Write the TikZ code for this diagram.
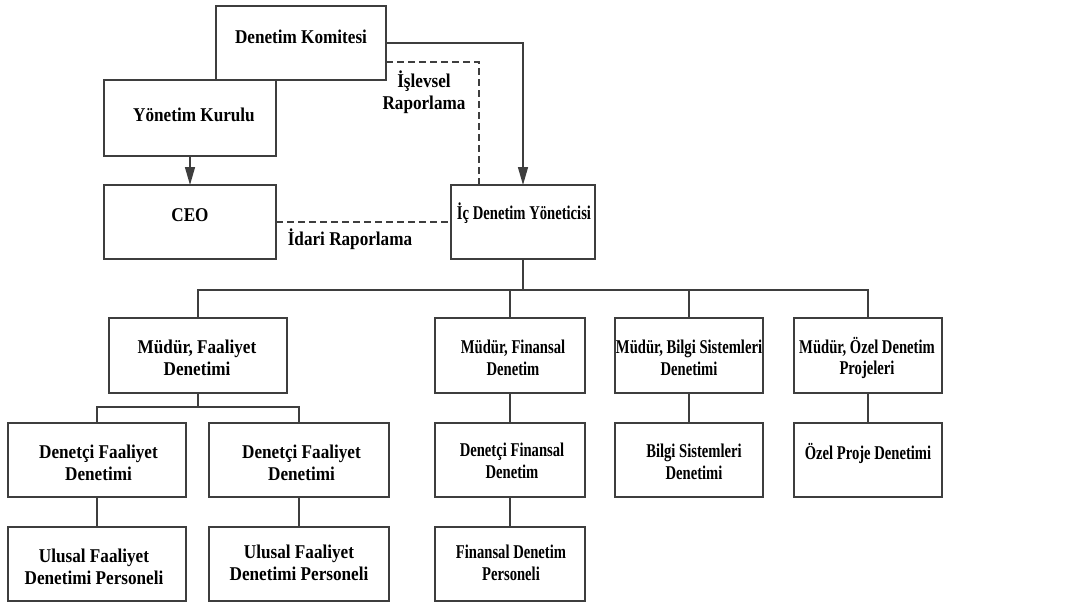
\documentclass[tikz,border=0pt]{standalone}
\usepackage{fontspec}
\setmainfont{Liberation Serif}[FakeStretch=0.88]
\newfontfamily\nf{Liberation Serif}[FakeStretch=0.75]
\usetikzlibrary{arrows.meta,calc}
\definecolor{ln}{RGB}{62,62,62}
\newcommand\mybox[5]{\node[box, minimum width={(#4-#2)*1pt}, minimum height={(#5-#3)*1pt}] (#1) at ({(#2+#4)/2},{(#3+#5)/2}) {};}
\begin{document}
\begin{tikzpicture}[x=1pt,y=-1pt,
 box/.style={draw=ln, line width=1.4pt, inner sep=0pt, outer sep=0pt},
 txt/.style={font=\fontsize{19.5}{21.7}\selectfont\bfseries, align=center, inner sep=0pt, text=black},
 ntxt/.style={font=\fontsize{19.5}{21.7}\selectfont\nf\bfseries, align=center, inner sep=0pt, text=black},
 conn/.style={draw=ln, line width=1.4pt},
 arr/.style={conn, -{Triangle[length=18pt,width=10pt]}},
 dsh/.style={conn, dash pattern=on 7pt off 4pt}]
\useasboundingbox (0,0) rectangle (1066,603);
% boxes
\mybox{kom}{216}{6}{386}{80}
\mybox{yon}{104}{80}{276}{156}
\mybox{ceo}{104}{185}{276}{259}
\mybox{ic}{451}{185}{595}{259}
\mybox{m1}{109}{318}{287}{393}
\mybox{m2}{435}{318}{585}{393}
\mybox{m3}{615}{318}{763}{393}
\mybox{m4}{794}{318}{942}{393}
\mybox{d1}{8}{423}{186}{497}
\mybox{d2}{209}{423}{389}{497}
\mybox{d3}{435}{423}{585}{497}
\mybox{d4}{615}{423}{763}{497}
\mybox{d5}{794}{423}{942}{497}
\mybox{u1}{8}{527}{186}{601}
\mybox{u2}{209}{527}{389}{601}
\mybox{u3}{435}{527}{585}{601}
% texts
\node[txt] (tkom) at (301,37) {Denetim Komitesi};
\node[txt] (tyon) at (194,115) {Yönetim Kurulu};
\node[txt] (tceo) at (190,215) {CEO};
\node[ntxt] (tic) at (524,213) {İç Denetim Yöneticisi};
\node[txt] (tm1) at (197,358) {Müdür, Faaliyet\\Denetimi};
\node[ntxt] (tm2) at (513,358) {Müdür, Finansal\\Denetim};
\node[ntxt] (tm3) at (689,358) {Müdür, Bilgi Sistemleri\\Denetimi};
\node[ntxt] (tm4) at (867,358) {Müdür, Özel Denetim\\Projeleri};
\node[txt] (td1) at (98.5,463) {Denetçi Faaliyet\\Denetimi};
\node[txt] (td2) at (301.5,463) {Denetçi Faaliyet\\Denetimi};
\node[ntxt] (td3) at (512,461) {Denetçi Finansal\\Denetim};
\node[ntxt] (td4) at (694,462) {Bilgi Sistemleri\\Denetimi};
\node[ntxt] (td5) at (868,453) {Özel Proje Denetimi};
\node[txt] (tu1) at (94,567) {Ulusal Faaliyet\\Denetimi Personeli};
\node[txt] (tu2) at (299,563) {Ulusal Faaliyet\\Denetimi Personeli};
\node[ntxt] (tu3) at (511,563) {Finansal Denetim\\Personeli};
\node[txt] (lisl) at (424,92) {İşlevsel\\Raporlama};
\node[txt] (lida) at (350,239) {İdari Raporlama};
% connectors
\draw[arr] (yon) -- (ceo);
\draw[arr] (kom.east) -| (ic.north);
\draw[dsh] ($(kom.south east)+(0,-18)$) -| ($(ic.north west)+(28,0)$);
\draw[dsh] (ceo) -- (ic);
\coordinate (bus) at (523,290);
\draw[conn] (ic.south) -- (bus);
\draw[conn] (m1.north) |- (m4.north |- bus) -- (m4.north);
\draw[conn] (m2.north) -- (m2.north |- bus);
\draw[conn] (m3.north) -- (m3.north |- bus);
\coordinate (sbus) at (198,407);
\draw[conn] (m1.south) -- (sbus);
\draw[conn] (d1.north) |- (d2.north |- sbus) -- (d2.north);
\draw[conn] (m2) -- (d3);
\draw[conn] (d3) -- (u3);
\draw[conn] (m3) -- (d4);
\draw[conn] (m4) -- (d5);
\draw[conn] (d1) -- (u1);
\draw[conn] (d2) -- (u2);
\end{tikzpicture}
\end{document}
